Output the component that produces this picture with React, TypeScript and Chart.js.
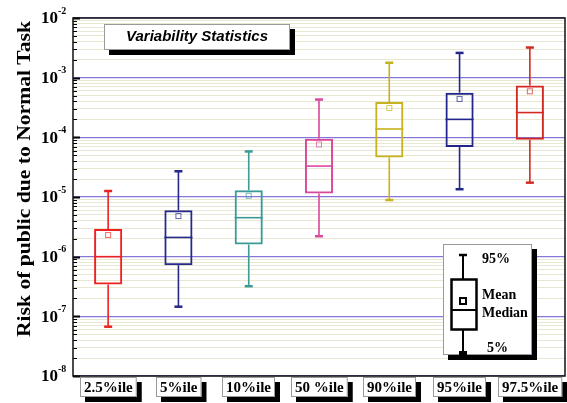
import { useEffect, useRef } from "react";
import { Chart, registerables } from "chart.js";

Chart.register(...registerables);

const categories = ["2.5%ile", "5%ile", "10%ile", "50 %ile", "90%ile", "95%ile", "97.5%ile"];
const whiskerLow = [6.7e-8, 1.45e-7, 3.2e-7, 2.2e-6, 8.9e-6, 1.35e-5, 1.74e-5];
const q1 = [3.4e-7, 7.2e-7, 1.6e-6, 1.15e-5, 4.6e-5, 6.9e-5, 9.1e-5];
const medians = [1.0e-6, 2.1e-6, 4.5e-6, 3.3e-5, 1.38e-4, 2.0e-4, 2.6e-4];
const q3 = [2.9e-6, 6.0e-6, 1.3e-5, 9.5e-5, 3.9e-4, 5.6e-4, 7.4e-4];
const whiskerHigh = [1.26e-5, 2.7e-5, 5.8e-5, 4.3e-4, 1.78e-3, 2.6e-3, 3.2e-3];
const means = [2.3e-6, 4.8e-6, 1.05e-5, 7.6e-5, 3.1e-4, 4.4e-4, 5.9e-4];
const colors = ["#ee2222", "#24298a", "#3c9a96", "#d9489c", "#c4b21e", "#22268a", "#d22a22"];
const decadeExponents = [-8, -7, -6, -5, -4, -3, -2];
const titleText = "Variability Statistics";
const yAxisTitle = "Risk of public due to Normal Task";
const legendLabels = { top: "95%", mean: "Mean", median: "Median", bottom: "5%" };

const SERIF = '"Liberation Serif", "Times New Roman", serif';
const SANS = '"Liberation Sans", Arial, sans-serif';

function line(ctx: CanvasRenderingContext2D, x1: number, y1: number, x2: number, y2: number) {
  ctx.beginPath();
  ctx.moveTo(x1, y1);
  ctx.lineTo(x2, y2);
  ctx.stroke();
}

function shadowBox(ctx: CanvasRenderingContext2D, x: number, y: number, w: number, h: number, off = 5) {
  ctx.fillStyle = "#000";
  ctx.fillRect(x + off, y + off, w, h);
  ctx.fillStyle = "#fff";
  ctx.fillRect(x, y, w, h);
  ctx.strokeStyle = "#9a9a9a";
  ctx.lineWidth = 1;
  ctx.strokeRect(x + 0.5, y + 0.5, w - 1, h - 1);
}

const overlay = {
  id: "overlay",
  afterDatasetsDraw(chart: any) {
    const { ctx, scales } = chart;
    const x = scales.x;
    const y = scales.y;
    const meta = chart.getDatasetMeta(0);
    ctx.save();
    categories.forEach((_, i) => {
      const cx = x.getPixelForValue(i);
      const half = meta.data[i].width / 2;
      ctx.strokeStyle = colors[i];
      const yHi = y.getPixelForValue(whiskerHigh[i]);
      const yLo = y.getPixelForValue(whiskerLow[i]);
      ctx.lineWidth = 1.6;
      line(ctx, cx, y.getPixelForValue(q3[i]), cx, yHi);
      line(ctx, cx, y.getPixelForValue(q1[i]), cx, yLo);
      ctx.lineWidth = 2.5;
      line(ctx, cx - 4, yHi, cx + 4, yHi);
      line(ctx, cx - 4, yLo, cx + 4, yLo);
      ctx.lineWidth = 1.6;
      const ym = y.getPixelForValue(medians[i]);
      line(ctx, cx - half, ym, cx + half, ym);
      const ymean = y.getPixelForValue(means[i]);
      ctx.lineWidth = 1;
      ctx.globalAlpha = 0.7;
      ctx.strokeRect(cx - 2.5, ymean - 2.5, 5, 5);
      ctx.globalAlpha = 1;
    });
    ctx.restore();
  },
  afterDraw(chart: any) {
    const { ctx, scales, chartArea: a } = chart;
    const x = scales.x;
    const y = scales.y;
    ctx.save();

    // axis tick marks (inward)
    ctx.strokeStyle = "#000";
    y.ticks.forEach((t: any) => {
      const v = t.value;
      const e = Math.log10(v);
      const major = Math.abs(e - Math.round(e)) < 1e-6;
      const py = Math.round(y.getPixelForValue(v)) + 0.5;
      ctx.lineWidth = major ? 2 : 1;
      line(ctx, a.left, py, a.left + (major ? 7 : 4), py);
    });

    // border
    ctx.strokeStyle = "#111";
    ctx.lineWidth = 1.5;
    ctx.strokeRect(a.left, a.top, a.right - a.left, a.bottom - a.top);

    // y tick labels
    ctx.fillStyle = "#000";
    ctx.textBaseline = "middle";
    decadeExponents.forEach((e) => {
      const py = y.getPixelForValue(Math.pow(10, e));
      ctx.font = `bold 17px ${SERIF}`;
      ctx.textAlign = "right";
      ctx.fillText("10", a.left - 15, py + 1);
      ctx.font = `bold 10px ${SERIF}`;
      ctx.textAlign = "left";
      ctx.fillText(String(e), a.left - 15, py - 7);
    });

    // y axis title, stretched to the reference length
    ctx.save();
    ctx.translate(25, 179);
    ctx.rotate(-Math.PI / 2);
    ctx.font = `bold 18px ${SERIF}`;
    const tw = ctx.measureText(yAxisTitle).width;
    ctx.scale(316 / tw, 1);
    ctx.textAlign = "center";
    ctx.textBaseline = "middle";
    ctx.fillText(yAxisTitle, 0, 0);
    ctx.restore();

    // category labels
    ctx.font = `bold 15px ${SERIF}`;
    categories.forEach((c, i) => {
      const cx = x.getPixelForValue(i);
      const w = ctx.measureText(c).width + 8;
      const bx = Math.round(cx - w / 2);
      shadowBox(ctx, bx, a.bottom + 1, w, 20, 5);
      ctx.fillStyle = "#000";
      ctx.textAlign = "center";
      ctx.textBaseline = "middle";
      ctx.fillText(c, bx + w / 2, a.bottom + 12);
    });

    // title box
    shadowBox(ctx, 104, 24, 186, 26, 5);
    ctx.fillStyle = "#000";
    ctx.font = `italic bold 15px ${SANS}`;
    ctx.textAlign = "center";
    ctx.textBaseline = "middle";
    ctx.fillText(titleText, 197, 37);

    // legend
    const lx = 443, ly = 244;
    shadowBox(ctx, lx, ly, 89, 111, 5);
    ctx.strokeStyle = "#000";
    ctx.lineWidth = 2;
    line(ctx, 463, 255, 463, 279);
    line(ctx, 463, 329, 463, 353);
    ctx.lineWidth = 2.5;
    line(ctx, 459, 255, 467, 255);
    ctx.fillStyle = "#000";
    ctx.fillRect(459, 351, 8, 5);
    ctx.strokeRect(451.5, 279.5, 25, 50);
    ctx.lineWidth = 2;
    line(ctx, 451, 310, 477, 310);
    ctx.strokeRect(460, 298, 6, 6);
    ctx.fillStyle = "#000";
    ctx.font = `bold 14px ${SERIF}`;
    ctx.textAlign = "left";
    ctx.textBaseline = "middle";
    ctx.fillText(legendLabels.top, 482, 259);
    ctx.fillText(legendLabels.mean, 482, 295);
    ctx.fillText(legendLabels.median, 482, 313);
    ctx.fillText(legendLabels.bottom, 487, 348);

    ctx.restore();
  },
};

export default function App() {
  const ref = useRef<HTMLCanvasElement>(null);
  useEffect(() => {
    document.body.style.margin = "0";
    const chart = new Chart(ref.current!, {
      type: "bar",
      data: {
        labels: categories,
        datasets: [
          {
            data: categories.map((_, i) => [q1[i], q3[i]]) as any,
            backgroundColor: "rgba(255,255,255,0)",
            borderColor: colors,
            borderWidth: 2,
            borderSkipped: false,
            barPercentage: 0.4,
            categoryPercentage: 1,
          },
        ],
      },
      options: {
        responsive: false,
        animation: false,
        devicePixelRatio: 1,
        layout: { padding: { left: 73, right: 2, top: 18, bottom: 27 } },
        plugins: { legend: { display: false }, tooltip: { enabled: false }, title: { display: false } },
        scales: {
          x: {
            type: "category",
            offset: true,
            grid: { display: false, drawTicks: false },
            border: { display: false },
            ticks: { display: false },
          },
          y: {
            type: "logarithmic",
            min: 1e-8,
            max: 1e-2,
            border: { display: false },
            ticks: { display: false },
            afterBuildTicks: (scale: any) => {
              const ticks: any[] = [];
              for (const e of decadeExponents) {
                for (let m = 1; m <= 9; m++) {
                  const v = m * Math.pow(10, e);
                  if (v <= 1e-2 * 1.0000001) ticks.push({ value: v });
                  if (e === -2) break;
                }
              }
              scale.ticks = ticks;
            },
            grid: {
              drawTicks: false,
              color: (c: any) => {
                const v = c.tick?.value;
                if (!v) return "#eee";
                const e = Math.log10(v);
                return Math.abs(e - Math.round(e)) < 1e-6 ? "#8676d6" : "#e8e7d2";
              },
              lineWidth: (c: any) => {
                const v = c.tick?.value;
                if (!v) return 1;
                const e = Math.log10(v);
                return Math.abs(e - Math.round(e)) < 1e-6 ? 1.3 : 1;
              },
            },
          },
        },
      },
      plugins: [overlay],
    });
    return () => chart.destroy();
  }, []);
  return (
    <div style={{ width: 567, height: 403 }}>
      <canvas ref={ref} width={567} height={403} />
    </div>
  );
}
